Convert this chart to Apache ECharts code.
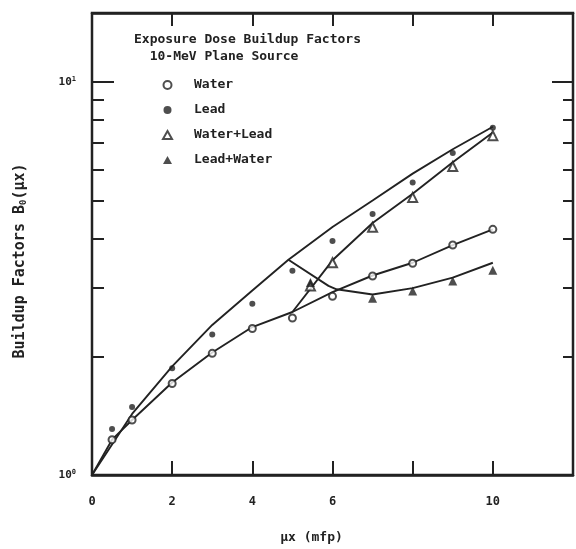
<!DOCTYPE html>
<html>
<head>
<meta charset="utf-8">
<script src="https://cdn.jsdelivr.net/npm/echarts@6/dist/echarts.min.js"></script>
<style>
html, body { margin: 0; padding: 0; background: #fff; }
#chart { width: 576px; height: 549px; }
</style>
</head>
<body>
<div id="chart"></div>
<script>
// measured points, x in mfp
const ptX = [0.5, 1, 2, 3, 4, 5, 6, 7, 8, 9, 10]
const waterPts = [1.23, 1.38, 1.71, 2.04, 2.36, 2.51, 2.85, 3.21, 3.46, 3.85, 4.22]
const leadPts = [1.31, 1.49, 1.87, 2.28, 2.73, 3.31, 3.94, 4.62, 5.55, 6.6, 7.65]
const waterLeadX = [5.45, 6, 7, 8, 9, 10]
const waterLeadPts = [3.03, 3.47, 4.27, 5.09, 6.1, 7.31]
const leadWaterX = [5.45, 7, 8, 9, 10]
const leadWaterPts = [3.09, 2.82, 2.94, 3.12, 3.32]

// calculated curves
const waterCurveX = [0, 0.5, 1, 2, 3, 4, 5, 6, 7, 8, 9, 10]
const waterCurve = [1, 1.23, 1.38, 1.72, 2.05, 2.38, 2.6, 2.92, 3.22, 3.47, 3.85, 4.22]
const leadCurveX = [0, 1, 2, 3, 4, 4.9, 6, 7, 8, 9, 10]
const leadCurve = [1, 1.43, 1.89, 2.41, 2.95, 3.53, 4.28, 5.0, 5.85, 6.75, 7.7]
const waterLeadCurveX = [5, 6, 7, 8, 9, 10]
const waterLeadCurve = [2.6, 3.52, 4.38, 5.2, 6.25, 7.45]
const leadWaterCurveX = [4.9, 5.9, 6.1, 7, 8, 9, 10]
const leadWaterCurve = [3.53, 3.03, 2.97, 2.88, 2.99, 3.18, 3.47]

// ticks
const yMinorTicks = [2, 3, 4, 5, 6, 7, 8, 9]
const yMajorTicks = [10]
const yLabels = [1, 10]
const xHiddenLabels = [8, 12]

const ink = '#222'
const mono = 'DejaVu Sans Mono'

function pairs(xs, ys) {
  return xs.map((x, i) => [x, ys[i]])
}

function curve(xs, ys) {
  return {
    type: 'line',
    data: pairs(xs, ys),
    symbol: 'none',
    silent: true,
    lineStyle: { color: ink, width: 1.9 },
    z: 2
  }
}

function yAx(position, ticks, len, withLabels) {
  return {
    type: 'log',
    logBase: 10,
    min: 1,
    max: 15,
    position: position,
    axisLine: { show: false },
    splitLine: { show: false },
    axisTick: {
      show: true,
      inside: true,
      length: len,
      customValues: ticks,
      lineStyle: { color: ink, width: 2 }
    },
    axisLabel: withLabels ? {
      show: true,
      customValues: yLabels,
      margin: 16,
      color: ink,
      fontFamily: mono,
      fontWeight: 'bold',
      fontSize: 11,
      formatter: v => '10{s|' + Math.round(Math.log10(v)) + '}',
      rich: { s: { fontSize: 7, fontFamily: mono, color: ink, verticalAlign: 'top', padding: [0, 0, 6, 0] } }
    } : { show: false }
  }
}

const chart = echarts.init(document.getElementById('chart'))
chart.setOption({
  backgroundColor: '#fff',
  animation: false,
  title: {
    text: 'Exposure Dose Buildup Factors\n  10-MeV Plane Source',
    left: 129,
    top: 26,
    textStyle: { fontFamily: mono, fontWeight: 'bold', fontSize: 13, lineHeight: 17, color: ink }
  },
  legend: {
    data: ['Water', 'Lead', 'Water+Lead', 'Lead+Water'],
    orient: 'vertical',
    left: 157,
    top: 73,
    itemWidth: 9,
    itemHeight: 8,
    itemGap: 11,
    selectedMode: false,
    textStyle: {
      fontFamily: mono, fontWeight: 'bold', fontSize: 13, lineHeight: 14, color: ink,
      padding: [0, 0, 0, 17]
    }
  },
  grid: {
    left: 92,
    right: 1,
    top: 13,
    bottom: 72,
    show: true,
    borderColor: ink,
    borderWidth: 2.5,
    backgroundColor: 'transparent'
  },
  xAxis: [
    {
      type: 'value',
      min: 0,
      max: 12,
      interval: 2,
      position: 'bottom',
      name: 'μx (mfp)',
      nameLocation: 'middle',
      nameGap: 56,
      nameTextStyle: { fontFamily: mono, fontWeight: 'bold', fontSize: 13, color: ink, padding: [0, 42, 0, 0] },
      axisLine: { show: true, lineStyle: { color: ink, width: 2.5 } },
      axisTick: { inside: true, length: 14, lineStyle: { color: ink, width: 2 } },
      splitLine: { show: false },
      axisLabel: {
        margin: 21,
        color: ink,
        fontFamily: mono,
        fontWeight: 'bold',
        fontSize: 12,
        formatter: v => (xHiddenLabels.includes(v) ? '' : String(v))
      }
    },
    {
      type: 'value',
      min: 0,
      max: 12,
      interval: 2,
      position: 'top',
      axisLine: { show: true, lineStyle: { color: ink, width: 2.5 } },
      axisTick: { inside: true, length: 13, lineStyle: { color: ink, width: 2 } },
      splitLine: { show: false },
      axisLabel: { show: false }
    }
  ],
  yAxis: [
    Object.assign(yAx('left', yMinorTicks, 12, true), {
      name: 'Buildup Factors B{b|0}(μx)',
      nameLocation: 'middle',
      nameGap: 64,
      nameRotate: 90,
      nameTextStyle: {
        fontFamily: mono, fontWeight: 'bold', fontSize: 15, color: ink,
        padding: [0, 34, 0, 0],
        rich: { b: { fontFamily: mono, fontWeight: 'bold', fontSize: 9, color: ink, verticalAlign: 'bottom', padding: [6, 0, 0, 0] } }
      }
    }),
    yAx('left', yMajorTicks, 22, false),
    yAx('right', yMinorTicks, 10, false),
    yAx('right', yMajorTicks, 21, false)
  ],
  series: [
    curve(waterCurveX, waterCurve),
    curve(leadCurveX, leadCurve),
    curve(waterLeadCurveX, waterLeadCurve),
    curve(leadWaterCurveX, leadWaterCurve),
    {
      name: 'Water',
      type: 'scatter',
      data: pairs(ptX, waterPts),
      symbol: 'emptyCircle',
      symbolSize: 7,
      itemStyle: { color: ink, borderWidth: 1.6 },
      z: 3
    },
    {
      name: 'Lead',
      type: 'scatter',
      data: pairs(ptX, leadPts),
      symbol: 'circle',
      symbolSize: 6,
      itemStyle: { color: ink },
      z: 3
    },
    {
      name: 'Water+Lead',
      type: 'scatter',
      data: pairs(waterLeadX, waterLeadPts),
      symbol: 'emptyTriangle',
      symbolSize: 9,
      itemStyle: { color: ink, borderWidth: 1.6 },
      z: 3
    },
    {
      name: 'Lead+Water',
      type: 'scatter',
      data: pairs(leadWaterX, leadWaterPts),
      symbol: 'triangle',
      symbolSize: 9,
      itemStyle: { color: ink },
      z: 3
    }
  ]
})
</script>
</body>
</html>
